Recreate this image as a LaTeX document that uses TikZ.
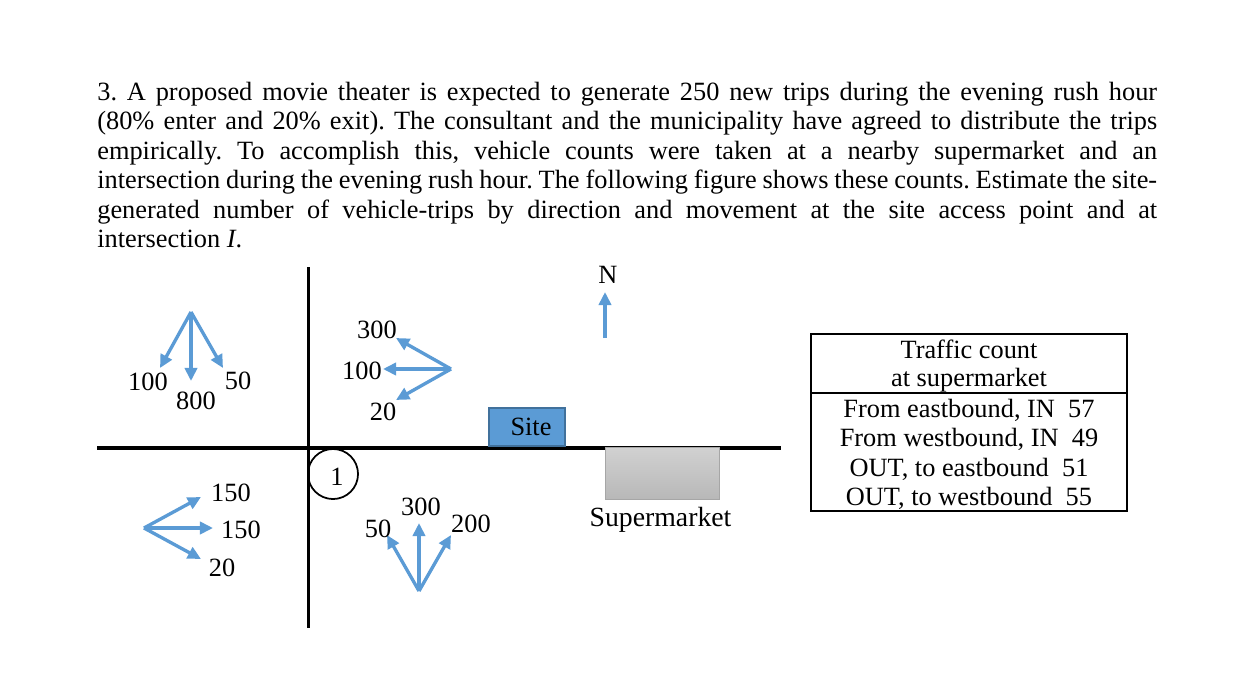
\documentclass[tikz,border=0pt]{standalone}
\usepackage{fontspec}
\setmainfont{Liberation Serif}
\usetikzlibrary{arrows.meta,positioning}
\definecolor{flowblue}{HTML}{5B9BD5}
\definecolor{siteedge}{HTML}{41719C}
\definecolor{marketedge}{HTML}{A6A6A6}
\frenchspacing
\tikzset{
  >={Triangle[length=7.5pt,width=7pt]},
  every node/.style={font=\fontsize{15}{16.7}\selectfont},
  % vagar
  road/.style={draw=black,line width=2pt},
  % floden
  flow/.style={->,draw=flowblue,line width=1.9pt},
  cnt/.style={inner sep=0pt},
  junction/.style={circle,draw=black,line width=1pt,inner sep=0pt,minimum size=28.5pt},
  sitebox/.style={rectangle,draw=siteedge,line width=1pt,fill=flowblue,inner sep=0pt,
                  minimum width=43pt,minimum height=21.5pt},
  market/.style={rectangle,draw=marketedge,line width=0.6pt,top color=black!18,
                 bottom color=black!28,inner sep=0pt,minimum width=65pt,minimum height=30pt},
  tbl/.style={rectangle,draw=black,line width=1pt,inner sep=0pt,align=center,
              minimum width=180pt},
}
\begin{document}
\begin{tikzpicture}[x=0.02cm,y=-0.02cm]
\useasboundingbox (0,0) rectangle (1240,690);
  \node[anchor=north west,inner sep=0pt,text width=21.2cm,align=justify] (task) at (97,82) {3. A proposed movie theater is expected to generate 250 new trips during the evening rush hour\linebreak
  (80\% enter and 20\% exit). The consultant and the municipality have agreed to distribute the trips\linebreak
  empirically. To accomplish this, vehicle counts were taken at a nearby supermarket and an\linebreak
  intersection during the evening rush hour. The following figure shows these counts. Estimate the site-\linebreak
  generated number of vehicle-trips by direction and movement at the site access point and at\linebreak
  intersection \textit{I}.};
  % vagar
  \coordinate (rn) at (308.5,267);
  \coordinate (rs) at (308.5,628);
  \coordinate (rw) at (97,448);
  \coordinate (re) at (781,448);
  \draw[road] (rn) -- (rs);
  \draw[road] (rw) -- (re);
  \node[junction] (jct) at (333,474) {};
  \node[cnt] (jctnr) at (337,477) {1};
  % nordvast
  \coordinate (nw) at (191,312);
  \coordinate (nwa) at (160,368);
  \coordinate (nwb) at (191,381);
  \coordinate (nwc) at (223,368);
  \draw[flow] (nw) -- (nwa);
  \draw[flow] (nw) -- (nwb);
  \draw[flow] (nw) -- (nwc);
  \node[cnt] (nwla) at (148,382) {100};
  \node[cnt] (nwlb) at (196,401) {800};
  \node[cnt] (nwlc) at (238,381) {50};
  % nordost
  \coordinate (ne) at (451,369);
  \coordinate (nea) at (396,338);
  \coordinate (neb) at (383,369);
  \coordinate (nec) at (396,400);
  \draw[flow] (ne) -- (nea);
  \draw[flow] (ne) -- (neb);
  \draw[flow] (ne) -- (nec);
  \node[cnt] (nela) at (377,330) {300};
  \node[cnt] (nelb) at (362,371) {100};
  \node[cnt] (nelc) at (383,412) {20};
  % sydvast
  \coordinate (sw) at (144,528);
  \coordinate (swa) at (201,497);
  \coordinate (swb) at (213,528);
  \coordinate (swc) at (201,559);
  \draw[flow] (sw) -- (swa);
  \draw[flow] (sw) -- (swb);
  \draw[flow] (sw) -- (swc);
  \node[cnt] (swla) at (231,493) {150};
  \node[cnt] (swlb) at (241,530) {150};
  \node[cnt] (swlc) at (222,568) {20};
  % sydost
  \coordinate (se) at (419,591);
  \coordinate (sea) at (387,535);
  \coordinate (seb) at (419,523);
  \coordinate (sec) at (451,535);
  \draw[flow] (se) -- (sea);
  \draw[flow] (se) -- (seb);
  \draw[flow] (se) -- (sec);
  \node[cnt] (sela) at (378,529) {50};
  \node[cnt] (selb) at (421,507) {300};
  \node[cnt] (selc) at (471,524) {200};
  % norrpil
  \node[cnt] (north) at (608,275) {N};
  \coordinate (nfoot) at (605,338);
  \coordinate (ntip) at (605,292);
  \draw[flow] (nfoot) -- (ntip);
  % tomt och butik
  \node[sitebox] (site) at (527,427) {};
  \node[cnt] (sitelbl) at (531,427) {Site};
  \node[market] (shop) at (662.5,473.5) {};
  \node[cnt,font=\fontsize{15.8}{16.7}\selectfont] (shoplbl) at (660.5,520) {Supermarket};
  % tabell
  \node[tbl,minimum height=33.5pt] (tblhead) at (969,363.5) {};
  \node[tbl,minimum height=67pt] (tblbody) at (969,452) {};
  \node[cnt,align=center] (tbltitle) at (969,366) {Traffic count\\[-0.3pt]at supermarket};
  \node[cnt,align=center] (tblrows) at (969,454.5) {From eastbound, IN\ \ 57\\From westbound, IN\ \ 49\\OUT, to eastbound\ \ 51\\OUT, to westbound\ \ 55};
\end{tikzpicture}
\end{document}
